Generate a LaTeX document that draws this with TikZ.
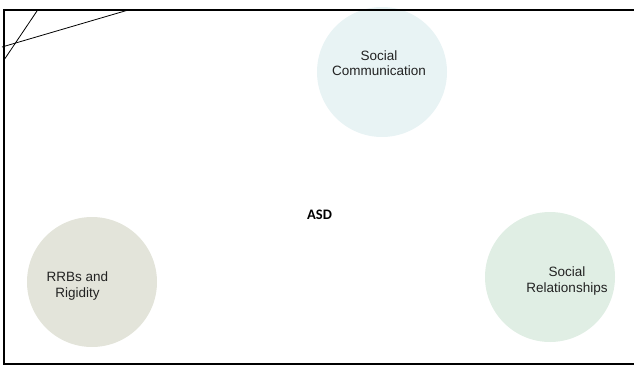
\documentclass[tikz,border=0pt]{standalone}
\usepackage{fontspec}
\setmainfont{Liberation Sans}
\newfontfamily\asdfont{Carlito}
\definecolor{commfill}{HTML}{E8F3F4}
\definecolor{rrbfill}{HTML}{E3E4DA}
\definecolor{relfill}{HTML}{E0EEE4}
\definecolor{txt}{HTML}{222222}
\begin{document}
\begin{tikzpicture}[x=1pt,y=-1pt,
  bubble/.style={circle,minimum size=130pt,inner sep=0pt},
  lbl/.style={font=\fontsize{13.5}{15.5}\selectfont,text=txt,align=center,inner sep=0pt},
  frame/.style={line width=2pt,black},
  thin/.style={line width=0.8pt,black}]
\useasboundingbox (0,0) rectangle (634,367);
\node[bubble,fill=commfill] (comm) at (382,72) {};
\node[bubble,fill=rrbfill] (rrb) at (92,282) {};
\node[bubble,fill=relfill] (rel) at (550,277) {};
\node[lbl] (commt) at (379,63) {Social\\Communication};
\node[lbl] (rrbt) at (77.5,286) {RRBs and\\Rigidity};
\node[lbl] (relt) at (567,281) {Social\\Relationships};
\node[font=\asdfont\bfseries\fontsize{14.5}{16}\selectfont,inner sep=0pt] (asd) at (319.5,215) {ASD};
\draw[frame] (640,9.5) -- (4,9.5) -- (4,364) -- (640,364);
\coordinate (a1) at (38,9.5);
\coordinate (a2) at (4,60);
\coordinate (b1) at (130,9.5);
\coordinate (b2) at (2,47);
\draw[thin] (a1) -- (a2);
\draw[thin] (b1) -- (b2);
\end{tikzpicture}
\end{document}
